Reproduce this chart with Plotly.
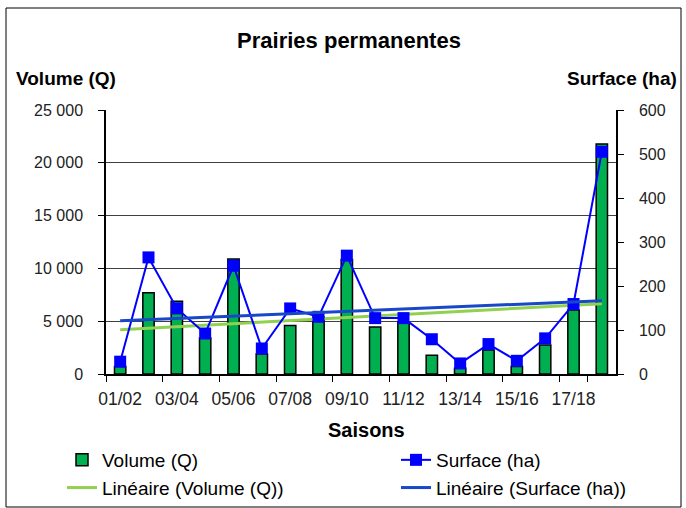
import numpy as np
import plotly.graph_objects as go

saisons = ["01/02", "02/03", "03/04", "04/05", "05/06", "06/07", "07/08", "08/09", "09/10",
           "10/11", "11/12", "12/13", "13/14", "14/15", "15/16", "16/17", "17/18", "18/19"]
volume_q = [700, 7700, 6900, 3400, 10900, 1900, 4600, 5400, 10850,
            4450, 4950, 1770, 540, 2270, 700, 2750, 6060, 21780]
surface_ha = [28, 265, 149, 92, 246, 58, 149, 130, 269,
              127, 127, 79, 24, 68, 30, 81, 159, 505]

idx = np.arange(1, len(saisons) + 1)
tv = np.polyval(np.polyfit(idx, volume_q, 1), idx)
ts = np.polyval(np.polyfit(idx, surface_ha, 1), idx)

FONT = "Liberation Sans, Arial, sans-serif"

fig = go.Figure()
fig.add_trace(go.Bar(x=saisons, y=volume_q, name="Volume (Q)", width=0.4, legend="legend",
                     marker=dict(color="#00B050", line=dict(color="black", width=1.5))))
fig.add_trace(go.Scatter(x=saisons, y=surface_ha, name="Surface (ha)", yaxis="y2", legend="legend2",
                         mode="lines+markers", line=dict(color="#0000FF", width=2),
                         marker=dict(symbol="square", size=12, color="#0000FF")))
fig.add_trace(go.Scatter(x=saisons, y=tv, name="Linéaire (Volume (Q))", mode="lines", legend="legend",
                         line=dict(color="#92D050", width=3)))
fig.add_trace(go.Scatter(x=saisons, y=ts, name="Linéaire (Surface (ha))", yaxis="y2", legend="legend2",
                         mode="lines", line=dict(color="#1848C8", width=3)))

W, H = 686, 508
L, R, T, B = 106, 70, 110, 134
pw, ph = W - L - R, H - T - B
def px(x):
    return (x - L) / pw
def py(y):
    return (H - B - y) / ph

leg_common = dict(orientation="v", xanchor="left", yanchor="top", traceorder="normal",
                  font=dict(family=FONT, size=19, color="black"), tracegroupgap=0,
                  bgcolor="rgba(0,0,0,0)")

fig.update_layout(
    width=W, height=H, margin=dict(l=L, r=R, t=T, b=B, autoexpand=False),
    paper_bgcolor="white", plot_bgcolor="white",
    separators=", ",
    font=dict(family=FONT, size=16, color="#222222"),
    title=dict(text="<b>Prairies permanentes</b>", x=349 / W, y=1 - 40 / H,
               xanchor="center", yanchor="middle",
               font=dict(family=FONT, size=22, color="black")),
    xaxis=dict(type="category", tickson="boundaries", ticks="outside", ticklen=6,
               tickcolor="black", showline=True, linecolor="black", linewidth=1.5,
               tickmode="array", tickvals=saisons[::2], ticktext=saisons[::2],
               tickangle=0, ticklabelstandoff=8, tickfont=dict(size=17.5, color="#222222"),
               range=[-0.5, len(saisons) - 0.5], automargin=False),
    yaxis=dict(range=[0, 25000], dtick=5000, tickformat=",d", showgrid=True,
               gridcolor="#404040", gridwidth=1, showline=True, linecolor="black",
               linewidth=1.5, ticks="outside", ticklen=6, tickcolor="black", zeroline=False,
               ticklabelstandoff=12, automargin=False),
    yaxis2=dict(range=[0, 600], dtick=100, overlaying="y", side="right", showgrid=False,
                showline=True, linecolor="black", linewidth=1.5, ticks="outside",
                ticklen=6, tickcolor="black", zeroline=False, ticklabelstandoff=12,
                automargin=False),
    legend=dict(x=px(62), y=py(441), **leg_common),
    legend2=dict(x=px(396), y=py(441), **leg_common),
    showlegend=True,
)

fig.add_annotation(text="<b>Saisons</b>", xref="paper", yref="paper", x=px(366), y=py(430),
                   xanchor="center", yanchor="middle", showarrow=False,
                   font=dict(family=FONT, size=20, color="black"))
fig.add_annotation(text="<b>Volume (Q)</b>", xref="paper", yref="paper", x=px(14), y=py(78),
                   xanchor="left", yanchor="middle", showarrow=False,
                   font=dict(family=FONT, size=19, color="black"))
fig.add_annotation(text="<b>Surface (ha)</b>", xref="paper", yref="paper", x=px(679), y=py(78),
                   xanchor="right", yanchor="middle", showarrow=False,
                   font=dict(family=FONT, size=19, color="black"))
fig.add_shape(type="rect", xref="paper", yref="paper", x0=px(6), x1=px(681), y0=py(507), y1=py(8),
              line=dict(color="black", width=1), fillcolor="rgba(0,0,0,0)", layer="below")

fig.write_html("out.html", config={"displayModeBar": False},
               post_script="document.body.style.margin='0';document.body.style.overflow='hidden';")
